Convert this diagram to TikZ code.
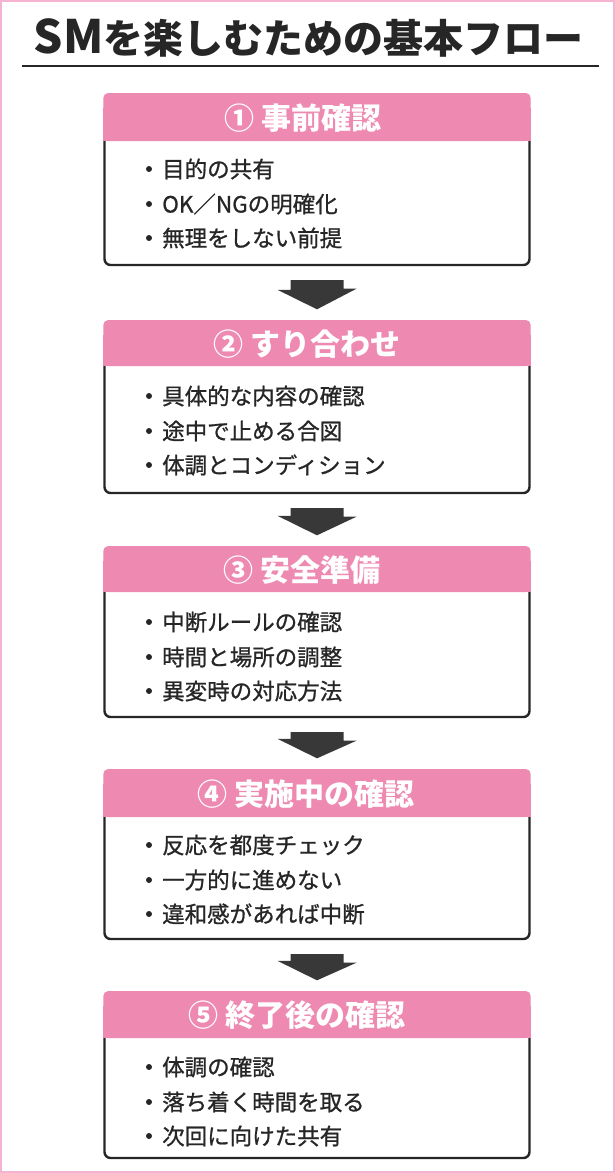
\documentclass[tikz,border=0pt]{standalone}
\usepackage{fontspec}
\newfontfamily\jp{Noto Sans CJK JP}
\newfontfamily\jpitem{Noto Sans CJK JP}[FakeBold=0.9]
\usetikzlibrary{calc}
\definecolor{hpink}{HTML}{EE8AB1}
\definecolor{framepink}{HTML}{F4B3D1}
\definecolor{ink}{HTML}{262626}
\definecolor{arrowgray}{HTML}{383838}
\tikzset{
  boxline/.style={draw=ink, line width=2.4pt},
  areabox/.style={rectangle, inner sep=0pt, draw=none},
  titletext/.style={font=\jp\bfseries\fontsize{40}{40}\selectfont, text=ink, inner sep=0pt},
  headtext/.style={font=\jp\bfseries\fontsize{30}{30}\selectfont, text=white, inner sep=0pt},
  itemtext/.style={font=\jpitem\fontsize{22.5}{22.5}\selectfont, text=ink, anchor=west, inner sep=0pt},
  bulletdot/.style={circle, fill=ink, inner sep=0pt, minimum size=6pt},
  arrowfill/.style={fill=arrowgray},
}
\begin{document}
\begin{tikzpicture}[x=1pt,y=-1pt]
\useasboundingbox (0,0) rectangle (615,1173);
\fill[white] (0,0) rectangle (615,1173);
\draw[framepink, line width=2pt] (1,1) rectangle (614,1172);
% title
\node[titletext, anchor=base] (title) at (308.5,53) {{\fontsize{46}{46}\selectfont SM}を楽しむための基本フロー};
\coordinate (ulL) at (22,66);
\coordinate (ulR) at (599,66);
\draw[ink, line width=2.6pt] (ulL) -- (ulR);
% boxes
\foreach \i/\top/\hb/\bot/\hx/\head/\ia/\ib/\ic in {
  1/93/141/265/303/{①\ 事前確認}/目的の共有/{OK／NGの明確化}/無理をしない前提,
  2/320/366/493/307/{②\ すり合わせ}/具体的な内容の確認/途中で止める合図/体調とコンディション,
  3/546/592/717/302/{③\ 安全準備}/中断ルールの確認/時間と場所の調整/異変時の対応方法,
  4/769/817/939/306/{④\ 実施中の確認}/反応を都度チェック/一方的に進めない/違和感があれば中断,
  5/991/1038/1158/297/{⑤\ 終了後の確認}/体調の確認/落ち着く時間を取る/次回に向けた共有}
{
  \pgfmathsetmacro{\bh}{\bot-\top}
  \pgfmathsetmacro{\by}{(\bot+\top)/2}
  \node[areabox, minimum width=426pt, minimum height=\bh pt] (box\i) at (317,\by) {};
  \fill[white] (104.5,\hb) rectangle (529.5,\bot);
  \fill[hpink, rounded corners=5pt] (103.3,\top) rectangle (530.7,\hb);
  \fill[hpink] (103.3,{\top+15}) rectangle (530.7,\hb);
  \draw[boxline, rounded corners=6pt] (104.5,\hb) -- (104.5,\bot) -- (529.5,\bot) -- (529.5,\hb);
  \node[headtext] (h\i) at (\hx,{(\top+\hb)/2+1}) {\head};
  \node[bulletdot] (da\i) at (149,{\top+76}) {};
  \node[bulletdot] (db\i) at (149,{\top+111}) {};
  \node[bulletdot] (dc\i) at (149,{\top+145}) {};
  \node[itemtext] (ia\i) at (162,{\top+76}) {\ia};
  \node[itemtext] (ib\i) at (162,{\top+111}) {\ib};
  \node[itemtext] (ic\i) at (162,{\top+145}) {\ic};
}
% arrows
\foreach \i/\j in {1/2,2/3,3/4,4/5} {
  \path (box\i.south) ++(0,15) coordinate (as\i);
  \path (box\j.north) ++(0,-10.5) coordinate (at\i);
  \fill[arrowfill] (as\i) ++(-26.5,0) -- ++(53,0) -- ++(0,8.5) -- ++(13,0) -- (at\i) -- ++(-39.5,-19.5) -- ++(13,0) -- cycle;
}
\end{tikzpicture}
\end{document}
